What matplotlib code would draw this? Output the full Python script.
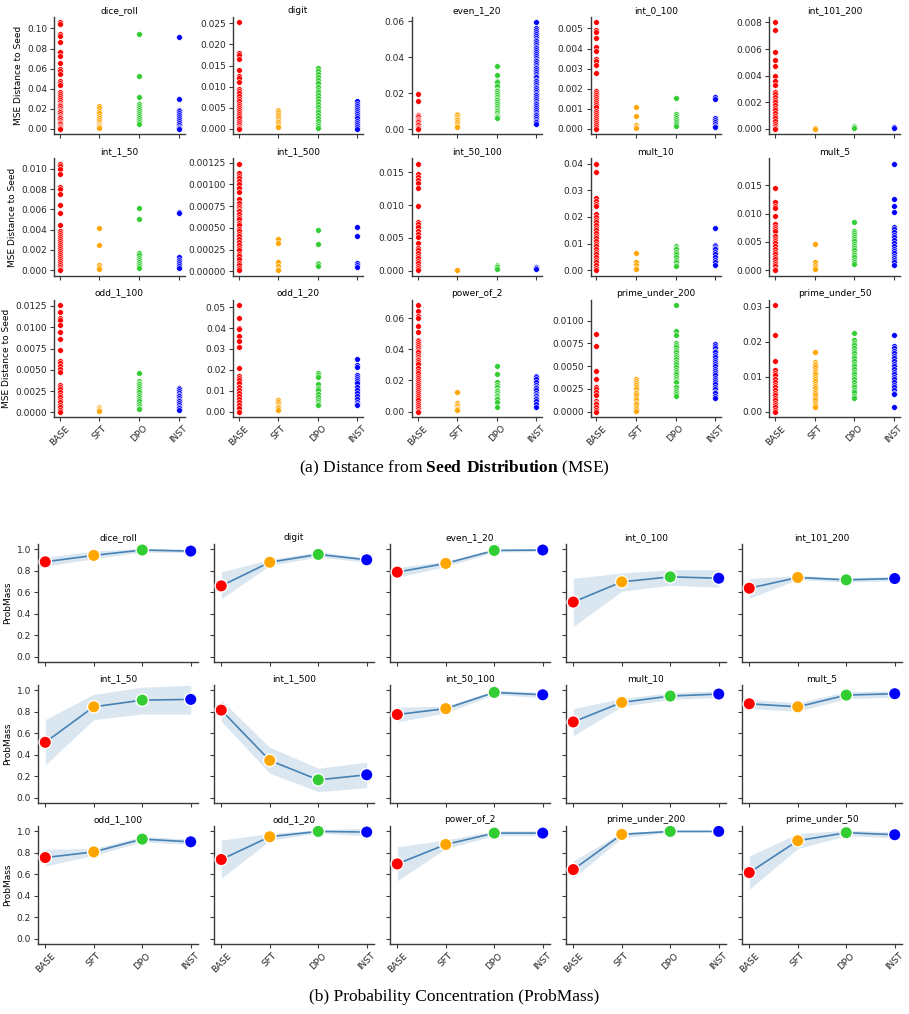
import matplotlib
matplotlib.use("Agg")
import matplotlib.pyplot as plt
import numpy as np

plt.rcParams['font.family'] = ['DejaVu Sans']
plt.rcParams['mathtext.fontset'] = 'custom'
plt.rcParams['mathtext.rm'] = 'Liberation Serif'
plt.rcParams['mathtext.bf'] = 'Liberation Serif:bold'

models = ["BASE", "SFT", "DPO", "INST"]
model_colors = ["red", "orange", "limegreen", "blue"]
tasks = ["dice_roll", "digit", "even_1_20", "int_0_100", "int_101_200",
         "int_1_50", "int_1_500", "int_50_100", "mult_10", "mult_5",
         "odd_1_100", "odd_1_20", "power_of_2", "prime_under_200", "prime_under_50"]

# ---------------- (a) MSE distance to seed: per-sample values ----------------
mse_dice_roll = {
    "BASE": [0.106, 0.104, 0.094, 0.092, 0.086, 0.077, 0.073, 0.066, 0.060, 0.058, 0.055, 0.048, 0.046,
             0.044, 0.037, 0.035, 0.033, 0.031, 0.029, 0.027, 0.025, 0.024, 0.023, 0.021, 0.019, 0.018,
             0.017, 0.015, 0.013, 0.012, 0.011, 0.009, 0.007, 0.006, 0.005, 0.003, 0.002, 0.001, 0.0],
    "SFT": [0.023, 0.021, 0.018, 0.016, 0.013, 0.011, 0.009, 0.007, 0.005, 0.004, 0.003, 0.002, 0.001],
    "DPO": [0.094, 0.053, 0.032, 0.025, 0.023, 0.021, 0.019, 0.017, 0.015, 0.013, 0.011, 0.009, 0.007, 0.005],
    "INST": [0.091, 0.030, 0.019, 0.018, 0.016, 0.014, 0.012, 0.010, 0.008, 0.006, 0.004, 0.002, 0.001, 0.0],
}
mse_digit = {
    "BASE": [0.0252, 0.018, 0.0175, 0.0165, 0.014, 0.0125, 0.012, 0.011, 0.0095, 0.009, 0.0085, 0.0078,
             0.007, 0.0065, 0.006, 0.0055, 0.005, 0.0045, 0.004, 0.0035, 0.003, 0.0025, 0.002, 0.0015,
             0.001, 0.0005, 0.0002, 0.0],
    "SFT": [0.0046, 0.0042, 0.0037, 0.0032, 0.0028, 0.0024, 0.002, 0.0016, 0.0012, 0.0008, 0.0004],
    "DPO": [0.0143, 0.0138, 0.013, 0.0122, 0.0115, 0.0108, 0.010, 0.0093, 0.0087, 0.008, 0.0073, 0.0066,
            0.006, 0.0053, 0.0046, 0.004, 0.0033, 0.0027, 0.002, 0.0012, 0.0006, 0.0003],
    "INST": [0.0065, 0.006, 0.0055, 0.005, 0.0045, 0.004, 0.0035, 0.003, 0.0025, 0.002, 0.0015, 0.001,
             0.0005, 0.0001],
}
mse_even_1_20 = {
    "BASE": [0.0198, 0.0155, 0.0082, 0.0075, 0.0068, 0.006, 0.0052, 0.0045, 0.0038, 0.003, 0.0022,
             0.0015, 0.0008, 0.0002],
    "SFT": [0.0085, 0.0078, 0.007, 0.006, 0.005, 0.004, 0.003, 0.002, 0.0012],
    "DPO": [0.035, 0.030, 0.027, 0.026, 0.024, 0.022, 0.021, 0.020, 0.019, 0.018, 0.017, 0.016, 0.015,
            0.014, 0.013, 0.012, 0.011, 0.010, 0.009, 0.008, 0.0075, 0.007, 0.0065],
    "INST": [0.0593, 0.0562, 0.0551, 0.0538, 0.0527, 0.0519, 0.0508, 0.0497, 0.0489, 0.0478, 0.0466,
             0.0457, 0.0449, 0.0438, 0.0426, 0.0418, 0.0409, 0.0398, 0.0387, 0.0379, 0.0368, 0.0357,
             0.0348, 0.0339, 0.0328, 0.0316, 0.0308, 0.0297, 0.0288, 0.0276, 0.0267, 0.0259, 0.0248,
             0.0236, 0.0228, 0.0218, 0.0207, 0.0196, 0.0188, 0.0177, 0.0168, 0.0157, 0.0146, 0.0138,
             0.0127, 0.0116, 0.0108, 0.0097, 0.0086, 0.0078, 0.0067, 0.0056, 0.0047, 0.0038, 0.0029],
}
mse_int_0_100 = {
    "BASE": [0.0053, 0.0049, 0.0048, 0.0045, 0.0041, 0.0039, 0.0035, 0.0034, 0.0032, 0.0028, 0.0019,
             0.0018, 0.0017, 0.0016, 0.0015, 0.0014, 0.0013, 0.0012, 0.0011, 0.0009, 0.0008, 0.0007,
             0.0006, 0.0005, 0.0004, 0.0003, 0.0002, 0.0001, 0.0],
    "SFT": [0.0011, 0.00065, 0.0002, 0.0001, 0.00005],
    "DPO": [0.00155, 0.00075, 0.00065, 0.00055, 0.00045, 0.00035, 0.00025, 0.00015],
    "INST": [0.0016, 0.0015, 0.00055, 0.00045, 0.00035, 0.00025, 0.00015, 0.0001],
}
mse_int_101_200 = {
    "BASE": [0.008, 0.0074, 0.0058, 0.0052, 0.0047, 0.004, 0.0036, 0.0033, 0.0028, 0.0026, 0.0024,
             0.0022, 0.002, 0.0018, 0.0016, 0.0014, 0.0012, 0.001, 0.0008, 0.0006, 0.0004, 0.0002,
             0.0001, 0.0],
    "SFT": [0.00005, 0.00002],
    "DPO": [0.00025, 0.0002, 0.00015, 0.0001],
    "INST": [0.00018, 0.00012, 0.00008],
}
mse_int_1_50 = {
    "BASE": [0.0105, 0.0103, 0.010, 0.0095, 0.0082, 0.008, 0.0075, 0.0064, 0.0056, 0.0045, 0.0039,
             0.0037, 0.0035, 0.0033, 0.0031, 0.0029, 0.0027, 0.0025, 0.0023, 0.0021, 0.0019, 0.0017,
             0.0015, 0.0013, 0.0011, 0.0009, 0.0007, 0.0005, 0.0003, 0.0001, 0.0],
    "SFT": [0.0042, 0.0025, 0.0005, 0.0003, 0.0001],
    "DPO": [0.0061, 0.0051, 0.0017, 0.0015, 0.0012, 0.001, 0.0008, 0.0006, 0.0004, 0.0002],
    "INST": [0.0057, 0.0056, 0.0013, 0.001, 0.0008, 0.0006, 0.0004, 0.0002],
}
mse_int_1_500 = {
    "BASE": [0.00124, 0.00113, 0.0011, 0.00107, 0.00104, 0.001, 0.00096, 0.00091, 0.00083, 0.00079,
             0.00075, 0.00073, 0.00071, 0.00069, 0.00066, 0.00063, 0.0006, 0.00056, 0.00053, 0.00049,
             0.00046, 0.00043, 0.0004, 0.00037, 0.00034, 0.0003, 0.00027, 0.00024, 0.0002, 0.00017,
             0.00014, 0.0001, 0.00007, 0.00004, 0.00001],
    "SFT": [0.00037, 0.00032, 0.00011, 0.00006, 0.00003, 0.00001],
    "DPO": [0.00048, 0.00031, 0.0001, 0.00008, 0.00006],
    "INST": [0.00051, 0.00041, 0.00009, 0.00007, 0.00005],
}
mse_int_50_100 = {
    "BASE": [0.0163, 0.0147, 0.0143, 0.0138, 0.0133, 0.0126, 0.0099, 0.0074, 0.0071, 0.0066, 0.0061,
             0.0056, 0.0051, 0.0042, 0.0034, 0.0032, 0.0027, 0.0023, 0.0019, 0.0015, 0.0011, 0.0007,
             0.0004, 0.0001],
    "SFT": [0.0001, 0.00005],
    "DPO": [0.0009, 0.0007, 0.0005, 0.0003],
    "INST": [0.0006, 0.0004, 0.0002],
}
mse_mult_10 = {
    "BASE": [0.040, 0.037, 0.027, 0.026, 0.025, 0.024, 0.021, 0.020, 0.019, 0.018, 0.017, 0.016, 0.015,
             0.014, 0.013, 0.012, 0.011, 0.010, 0.009, 0.008, 0.007, 0.006, 0.005, 0.004, 0.003, 0.002,
             0.001, 0.0],
    "SFT": [0.0065, 0.003, 0.002, 0.001, 0.0005],
    "DPO": [0.009, 0.0085, 0.008, 0.007, 0.006, 0.005, 0.004, 0.003, 0.002, 0.0015],
    "INST": [0.016, 0.0095, 0.009, 0.0085, 0.008, 0.007, 0.006, 0.005, 0.004, 0.003, 0.002],
}
mse_mult_5 = {
    "BASE": [0.0145, 0.012, 0.0113, 0.0109, 0.0096, 0.0081, 0.0077, 0.0073, 0.0069, 0.006, 0.0056,
             0.0052, 0.0048, 0.0043, 0.0038, 0.0033, 0.0028, 0.0024, 0.002, 0.0015, 0.0011, 0.0007,
             0.0003, 0.0],
    "SFT": [0.0047, 0.0014, 0.001, 0.0006, 0.0002],
    "DPO": [0.0086, 0.0069, 0.0066, 0.0063, 0.0059, 0.0055, 0.0051, 0.0047, 0.0043, 0.0039, 0.0035,
            0.0031, 0.0027, 0.0023, 0.0019, 0.0015, 0.0011],
    "INST": [0.0188, 0.0125, 0.0114, 0.0102, 0.0076, 0.0072, 0.0068, 0.0062, 0.0058, 0.0053, 0.0048,
             0.0043, 0.0038, 0.0034, 0.003, 0.0026, 0.0022, 0.0018, 0.0014, 0.001],
}
mse_odd_1_100 = {
    "BASE": [0.0126, 0.0118, 0.0111, 0.0109, 0.0102, 0.0094, 0.0086, 0.0073, 0.006, 0.0058, 0.0055,
             0.0051, 0.0048, 0.0032, 0.003, 0.0027, 0.0024, 0.0021, 0.0018, 0.0015, 0.0012, 0.0009,
             0.0006, 0.0003, 0.0001],
    "SFT": [0.0006, 0.0005, 0.0004, 0.0003, 0.0002],
    "DPO": [0.0046, 0.0037, 0.0035, 0.0033, 0.0031, 0.0029, 0.0026, 0.0024, 0.0021, 0.0018, 0.0016,
            0.0013, 0.001, 0.0008, 0.0005, 0.0004],
    "INST": [0.0029, 0.0027, 0.0025, 0.0023, 0.0021, 0.0019, 0.0017, 0.0015, 0.0013, 0.0011, 0.0009,
             0.0007, 0.0005, 0.0003],
}
mse_odd_1_20 = {
    "BASE": [0.051, 0.045, 0.040, 0.0395, 0.036, 0.034, 0.031, 0.021, 0.017, 0.016, 0.015, 0.0135,
             0.012, 0.0105, 0.009, 0.0075, 0.006, 0.0045, 0.003, 0.0015, 0.0],
    "SFT": [0.0055, 0.0045, 0.0035, 0.0028, 0.0022, 0.0016, 0.001],
    "DPO": [0.0185, 0.0175, 0.0165, 0.013, 0.0115, 0.0105, 0.0085, 0.007, 0.0055, 0.0045, 0.0035, 0.003],
    "INST": [0.025, 0.0225, 0.0215, 0.0175, 0.0165, 0.0155, 0.0145, 0.0135, 0.012, 0.0105, 0.009,
             0.0075, 0.006, 0.0048, 0.0038, 0.003],
}
mse_power_of_2 = {
    "BASE": [0.0685, 0.0648, 0.0612, 0.0603, 0.0553, 0.0512, 0.0462, 0.0452, 0.0441, 0.0428, 0.0415,
             0.0402, 0.0391, 0.038, 0.0365, 0.0352, 0.0341, 0.033, 0.0318, 0.0305, 0.0283, 0.0262,
             0.0248, 0.0232, 0.0218, 0.0205, 0.0192, 0.0178, 0.0165, 0.0152, 0.0138, 0.0125, 0.0112,
             0.0098, 0.0085, 0.0072, 0.0058, 0.0045, 0.0032, 0.0018, 0.0005, 0.0],
    "SFT": [0.0125, 0.0055, 0.0045, 0.0035, 0.0025, 0.0015, 0.0008],
    "DPO": [0.029, 0.024, 0.019, 0.017, 0.016, 0.014, 0.013, 0.012, 0.011, 0.010, 0.009, 0.008, 0.006, 0.003],
    "INST": [0.023, 0.022, 0.021, 0.019, 0.017, 0.016, 0.015, 0.014, 0.012, 0.011, 0.010, 0.009, 0.008,
             0.007, 0.005, 0.003],
}
mse_prime_under_200 = {
    "BASE": [0.0085, 0.0072, 0.0045, 0.0036, 0.0027, 0.0025, 0.0021, 0.0018, 0.0012, 0.001, 0.0008,
             0.0005, 0.0002, 0.0],
    "SFT": [0.0036, 0.0034, 0.0031, 0.0029, 0.0027, 0.0025, 0.0022, 0.002, 0.0018, 0.0015, 0.0013,
            0.001, 0.0008, 0.0005, 0.0003, 0.0001],
    "DPO": [0.0117, 0.0088, 0.0084, 0.0075, 0.0073, 0.0071, 0.0068, 0.0065, 0.0062, 0.006, 0.0058,
            0.0055, 0.0052, 0.0049, 0.0046, 0.0044, 0.0041, 0.0038, 0.0036, 0.0034, 0.0032, 0.0027,
            0.0024, 0.0022, 0.0019, 0.0017],
    "INST": [0.0074, 0.0072, 0.007, 0.0067, 0.0065, 0.0062, 0.006, 0.0057, 0.0055, 0.0052, 0.005,
             0.0047, 0.0045, 0.0042, 0.004, 0.0037, 0.0035, 0.0032, 0.003, 0.0027, 0.0025, 0.0022,
             0.002, 0.0017, 0.0015],
}
mse_prime_under_50 = {
    "BASE": [0.0305, 0.022, 0.0145, 0.012, 0.011, 0.0105, 0.0095, 0.0085, 0.0078, 0.007, 0.0062,
             0.0055, 0.0048, 0.004, 0.0033, 0.0026, 0.002, 0.0013, 0.0007, 0.0001],
    "SFT": [0.017, 0.0143, 0.0138, 0.0133, 0.0127, 0.012, 0.0113, 0.0107, 0.01, 0.0093, 0.0087, 0.008,
            0.0073, 0.0067, 0.006, 0.0053, 0.0047, 0.004, 0.0033, 0.0027, 0.002, 0.0015],
    "DPO": [0.0225, 0.0205, 0.0198, 0.019, 0.0183, 0.0175, 0.0168, 0.016, 0.0153, 0.0145, 0.0138,
            0.013, 0.0123, 0.0115, 0.0108, 0.01, 0.0093, 0.0085, 0.0078, 0.007, 0.0063, 0.0057,
            0.0045, 0.004],
    "INST": [0.022, 0.0188, 0.0182, 0.0175, 0.0168, 0.016, 0.0153, 0.0145, 0.0138, 0.013, 0.0123,
             0.0115, 0.0108, 0.01, 0.0093, 0.0085, 0.0078, 0.007, 0.0063, 0.0055, 0.005, 0.0013],
}

# ---------------- (b) ProbMass: mean and CI bounds per model ----------------
pm_dice_roll = {"mean": [0.884, 0.944, 0.994, 0.984], "lo": [0.844, 0.913, 0.975, 0.970], "hi": [0.928, 0.984, 1.010, 1.000]}
pm_digit = {"mean": [0.660, 0.880, 0.953, 0.903], "lo": [0.540, 0.850, 0.930, 0.880], "hi": [0.790, 0.906, 0.978, 0.920]}
pm_even_1_20 = {"mean": [0.788, 0.869, 0.990, 0.994], "lo": [0.740, 0.840, 0.975, 0.980], "hi": [0.830, 0.890, 1.000, 1.005]}
pm_int_0_100 = {"mean": [0.509, 0.697, 0.744, 0.731], "lo": [0.280, 0.610, 0.666, 0.647], "hi": [0.730, 0.780, 0.810, 0.810]}
pm_int_101_200 = {"mean": [0.638, 0.738, 0.716, 0.728], "lo": [0.544, 0.720, 0.694, 0.709], "hi": [0.728, 0.756, 0.734, 0.747]}
pm_int_1_50 = {"mean": [0.516, 0.847, 0.909, 0.916], "lo": [0.306, 0.728, 0.780, 0.780], "hi": [0.728, 0.963, 1.030, 1.047]}
pm_int_1_500 = {"mean": [0.816, 0.347, 0.166, 0.213], "lo": [0.713, 0.228, 0.056, 0.094], "hi": [0.909, 0.469, 0.275, 0.331]}
pm_int_50_100 = {"mean": [0.775, 0.830, 0.981, 0.959], "lo": [0.706, 0.790, 0.963, 0.930], "hi": [0.844, 0.853, 1.000, 0.984]}
pm_mult_10 = {"mean": [0.706, 0.888, 0.947, 0.966], "lo": [0.578, 0.850, 0.916, 0.934], "hi": [0.830, 0.925, 0.978, 0.997]}
pm_mult_5 = {"mean": [0.875, 0.847, 0.956, 0.969], "lo": [0.830, 0.806, 0.922, 0.938], "hi": [0.916, 0.884, 0.988, 0.997]}
pm_odd_1_100 = {"mean": [0.756, 0.809, 0.928, 0.903], "lo": [0.678, 0.778, 0.903, 0.878], "hi": [0.834, 0.840, 0.953, 0.928]}
pm_odd_1_20 = {"mean": [0.738, 0.950, 1.000, 0.994], "lo": [0.563, 0.915, 0.985, 0.960], "hi": [0.919, 0.980, 1.015, 1.030]}
pm_power_of_2 = {"mean": [0.697, 0.878, 0.984, 0.984], "lo": [0.540, 0.840, 0.960, 0.960], "hi": [0.856, 0.920, 1.006, 1.006]}
pm_prime_under_200 = {"mean": [0.644, 0.972, 1.000, 1.000], "lo": [0.563, 0.940, 0.991, 0.995], "hi": [0.725, 0.990, 1.009, 1.005]}
pm_prime_under_50 = {"mean": [0.616, 0.913, 0.988, 0.969], "lo": [0.460, 0.840, 0.960, 0.940], "hi": [0.770, 0.980, 1.010, 0.997]}

mse_all = [mse_dice_roll, mse_digit, mse_even_1_20, mse_int_0_100, mse_int_101_200,
           mse_int_1_50, mse_int_1_500, mse_int_50_100, mse_mult_10, mse_mult_5,
           mse_odd_1_100, mse_odd_1_20, mse_power_of_2, mse_prime_under_200, mse_prime_under_50]
pm_all = [pm_dice_roll, pm_digit, pm_even_1_20, pm_int_0_100, pm_int_101_200,
          pm_int_1_50, pm_int_1_500, pm_int_50_100, pm_mult_10, pm_mult_5,
          pm_odd_1_100, pm_odd_1_20, pm_power_of_2, pm_prime_under_200, pm_prime_under_50]

FS = 6.5
SPINE = "#3a3a3a"
LINE_C = "steelblue"

fig = plt.figure(figsize=(9.09, 10.14), dpi=100)
gs_top = fig.add_gridspec(3, 5, left=0.0594, right=0.990, top=0.9832, bottom=0.5888,
                          wspace=0.37, hspace=0.205)
gs_bot = fig.add_gridspec(3, 5, left=0.0418, right=0.9923, top=0.4635, bottom=0.069,
                          wspace=0.10, hspace=0.195)


def style(ax):
    ax.spines['top'].set_visible(False)
    ax.spines['right'].set_visible(False)
    for s in ('left', 'bottom'):
        ax.spines[s].set_color(SPINE)
        ax.spines[s].set_linewidth(1.0)
    ax.tick_params(labelsize=FS, length=3, width=0.8, color=SPINE, labelcolor="#262626", pad=2)


xpos = np.arange(len(models))

# (a) strip plots
for k, (task, d) in enumerate(zip(tasks, mse_all)):
    r, c = divmod(k, 5)
    ax = fig.add_subplot(gs_top[r, c])
    for i, m in enumerate(models):
        vals = np.asarray(d[m])
        ax.scatter(np.full(len(vals), xpos[i]), vals, s=17, color=model_colors[i],
                   edgecolor="white", linewidth=0.4, zorder=3)
    ax.set_xticks(xpos)
    style(ax)
    ax.set_title(task, fontsize=FS, pad=3)
    if r == 2:
        ax.set_xticklabels(models, rotation=45)
    else:
        ax.set_xticklabels([])
    if c == 0:
        ax.set_ylabel("MSE Distance to Seed", fontsize=FS, labelpad=3)

# (b) line plots with CI bands
first = None
for k, (task, d) in enumerate(zip(tasks, pm_all)):
    r, c = divmod(k, 5)
    ax = fig.add_subplot(gs_bot[r, c], sharey=first)
    if first is None:
        first = ax
    ax.fill_between(xpos, d["lo"], d["hi"], color=LINE_C, alpha=0.2, linewidth=0)
    ax.plot(xpos, d["mean"], color=LINE_C, lw=1.2, zorder=2)
    ax.scatter(xpos, d["mean"], s=80, c=model_colors, edgecolor="white", linewidth=1.0, zorder=3)
    ax.set_xticks(xpos)
    style(ax)
    ax.set_title(task, fontsize=FS, pad=3)
    ax.set_ylim(-0.05, 1.05)
    ax.set_yticks([0.0, 0.2, 0.4, 0.6, 0.8, 1.0])
    if r == 2:
        ax.set_xticklabels(models, rotation=45)
    else:
        ax.set_xticklabels([])
    if c == 0:
        ax.set_ylabel("ProbMass", fontsize=FS, labelpad=3)
    else:
        ax.tick_params(labelleft=False)

fig.text(0.5, 1 - 468 / 1014, r"(a) Distance from $\mathbf{Seed\ Distribution}$ (MSE)",
         ha="center", va="center", fontsize=12.5, family="Liberation Serif")
fig.text(0.5, 1 - 997 / 1014, "(b) Probability Concentration (ProbMass)",
         ha="center", va="center", fontsize=12.5, family="Liberation Serif")

fig.savefig("out.png", dpi=100)
